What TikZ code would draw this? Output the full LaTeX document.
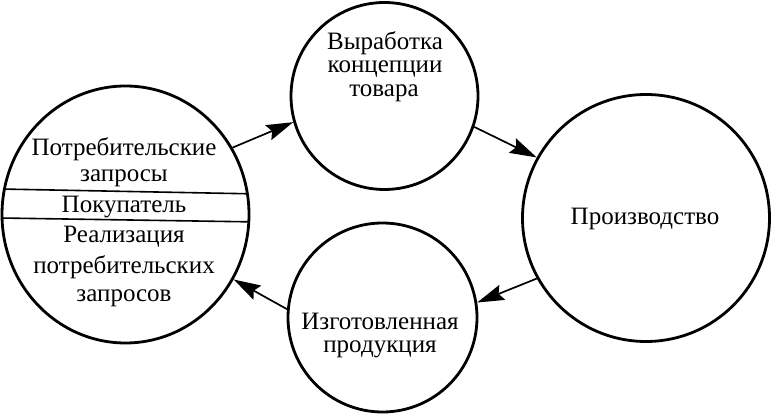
\documentclass[tikz,border=0pt]{standalone}
\usepackage{fontspec}
\setmainfont{Liberation Serif}
\usetikzlibrary{arrows.meta,shapes.geometric}
\begin{document}
\begin{tikzpicture}[x=1pt,y=-1pt,
  ring/.style={draw,line width=2.8pt,circle,inner sep=0pt},
  lbl/.style={font=\fontsize{25}{25}\selectfont,inner sep=0pt,anchor=base,text height=17pt,text depth=3.5pt},
  sep/.style={line width=1.6pt},
  flow/.style={line width=1.7pt,-{Stealth[length=27pt,width=16pt,inset=4pt]}}]
\useasboundingbox (0,0) rectangle (772,414);
% circles
\node[draw,line width=2.8pt,ellipse,inner sep=0pt,minimum width=247pt,minimum height=257pt] (L) at (125.5,214.5) {};
\node[ring,minimum size=187pt] (T) at (384.5,96) {};
\node[ring,minimum size=247pt] (R) at (646,218) {};
\node[ring,minimum size=189pt] (B) at (382.5,317.5) {};
% separators in left circle
\begin{scope}
  \clip (125.5,214.5) ellipse [x radius=123.5, y radius=128.5];
  \draw[sep] (0,189) -- (260,194);
  \draw[sep] (0,218) -- (260,222);
\end{scope}
% texts
\node[lbl] (l1) at (124,156) {Потребительские};
\node[lbl] (l2) at (124,182) {запросы};
\node[lbl] (l3) at (124,213) {Покупатель};
\node[lbl] (l4) at (124,243) {Реализация};
\node[lbl] (l5) at (124,274) {потребительских};
\node[lbl] (l6) at (124,302) {запросов};
\node[lbl] (t1) at (385,49.5) {Выработка};
\node[lbl] (t2) at (385,73) {концепции};
\node[lbl] (t3) at (384,96.5) {товара};
\node[lbl] (r1) at (645,225) {Производство};
\node[lbl] (b1) at (380,329.5) {Изготовленная};
\node[lbl] (b2) at (380,353) {продукция};
% arrows
\draw[flow] (L.32) -- (T.196);
\draw[flow] (T.-19) -- (R.151);
\draw[flow] (R.209) -- (B.9);
\draw[flow] (B.175) -- (L.-31);
\end{tikzpicture}
\end{document}
